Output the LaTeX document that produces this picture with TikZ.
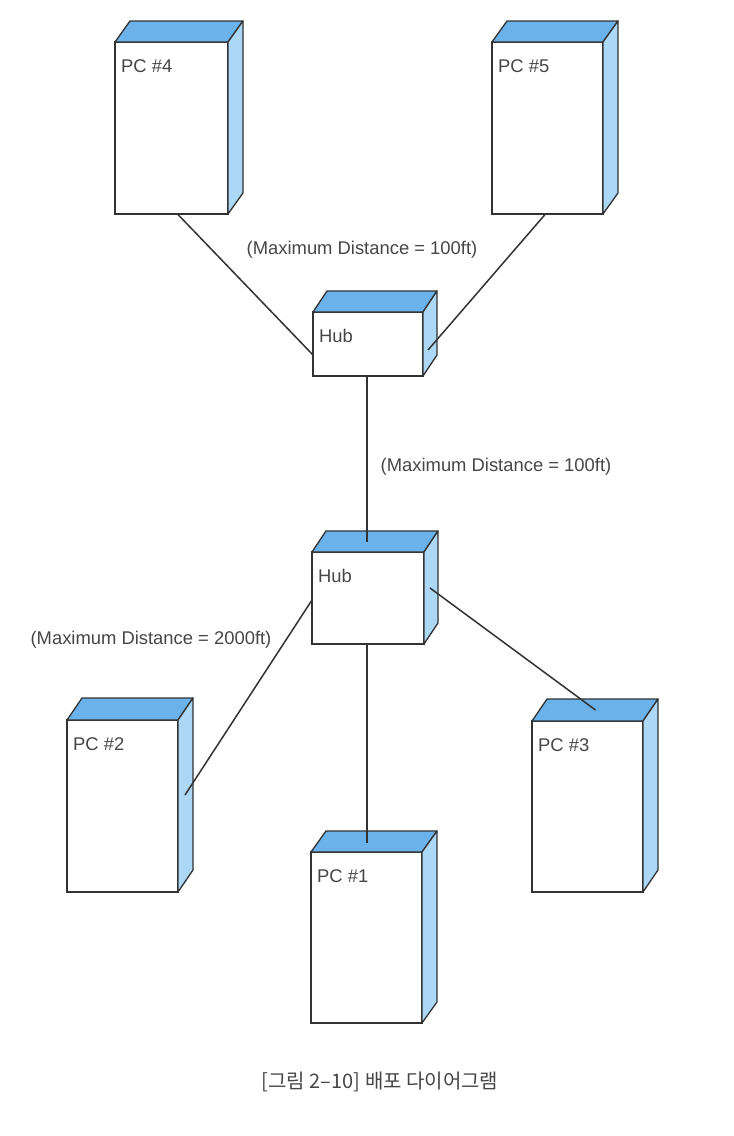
\documentclass[tikz,border=0pt]{standalone}
\usepackage{fontspec}
\setmainfont{Liberation Sans}
\newfontfamily\krfont{Noto Sans CJK KR}
\usetikzlibrary{calc}
\definecolor{topblue}{RGB}{108,178,234}
\definecolor{sideblue}{RGB}{172,216,246}
\definecolor{edgegray}{RGB}{50,50,50}
\definecolor{txtgray}{RGB}{70,70,70}
\tikzset{
  front/.style={draw=edgegray, line width=1.3pt, fill=white, rectangle, inner sep=0pt, outer sep=0pt},
  topface/.style={draw=edgegray, line width=1.3pt, fill=topblue, line join=round},
  sideface/.style={draw=edgegray, line width=1.3pt, fill=sideblue, line join=round},
  lbl/.style={inner sep=0pt, text=txtgray, font=\fontsize{18.4}{22}\selectfont},
  wire/.style={draw=edgegray, line width=1.5pt},
}
\newcommand\devbox[8]{%
  \node[front, minimum width=#4pt, minimum height=#5pt, anchor=north west] (#1) at (#2,#3) {};
  \filldraw[topface] (#1.north west) -- ++(#7,-#8) -- ++(#4,0) -- (#1.north east) -- cycle;
  \filldraw[sideface] (#1.north east) -- ++(#7,-#8) -- ++(0,#5) -- (#1.south east) -- cycle;
  \node[lbl, anchor=west] (#1-label) at ($(#1.north west)+(6,24)$) {#6};
}
\begin{document}
\begin{tikzpicture}[x=1pt,y=-1pt]
\useasboundingbox (0,0) rectangle (734,1136);
\devbox{pc4}{115}{42}{113}{172}{PC \#4}{15}{21}
\devbox{pc5}{492}{42}{111}{172}{PC \#5}{15}{21}
\devbox{hubA}{313}{312}{110}{64}{Hub}{14}{21}
\devbox{hubB}{312}{552}{112}{92}{Hub}{14}{21}
\devbox{pc2}{67}{720}{111}{172}{PC \#2}{15}{22}
\devbox{pc3}{532}{721}{111}{171}{PC \#3}{15}{22}
\devbox{pc1}{311}{852}{111}{171}{PC \#1}{15}{21}

\node[lbl] (d1) at (362,250) {(Maximum Distance = 100ft)};
\node[lbl] (d2) at (496,467) {(Maximum Distance = 100ft)};
\node[lbl] (d3) at (151,640) {(Maximum Distance = 2000ft)};
\node[inner sep=0pt, text=txtgray, font=\krfont\fontsize{20}{24}\selectfont] (cap) at (380,1082) {[그림 2–10] 배포 다이어그램};

\draw[wire] ($(pc4.south)+(6,0)$) -- ($(hubA.west)+(0,11)$);
\draw[wire] ($(pc5.south)+(-2,0)$) -- ($(hubA.east)+(5,6)$);
\draw[wire] ($(hubA.south)+(-1,0)$) -- ($(hubA.south |- hubB.north)+(-1,-10)$);
\draw[wire] ($(hubB.west)+(0,2)$) -- ($(pc2.east)+(7,-11)$);
\draw[wire] ($(hubB.east)+(6,-10)$) -- ($(pc3.north)+(8,-11)$);
\draw[wire] ($(hubB.south)+(-1,0)$) -- ($(hubB.south |- pc1.north)+(-1,-9)$);
\end{tikzpicture}
\end{document}
